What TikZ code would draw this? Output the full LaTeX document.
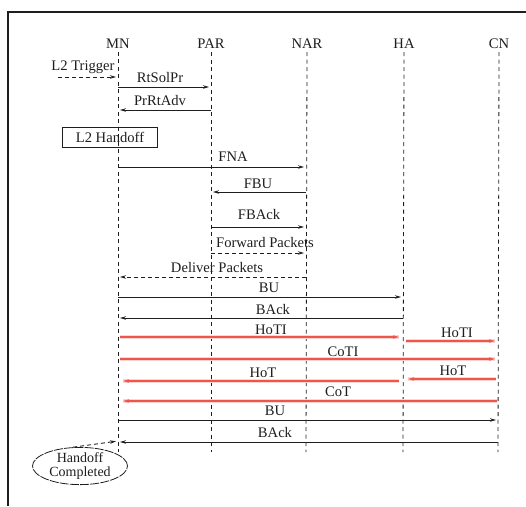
\documentclass[tikz,border=0pt]{standalone}
\usepackage{fontspec}
\setmainfont{Liberation Serif}
\usetikzlibrary{arrows.meta,shapes.geometric,calc}
\definecolor{redl}{RGB}{238,86,76}
\definecolor{inkc}{RGB}{30,30,30}
\begin{document}
\begin{tikzpicture}[x=1pt,y=-1pt,
  lbl/.style={font=\fontsize{14.6}{16}\selectfont, inner sep=0pt, text=inkc},
  life/.style={dash pattern=on 4pt off 3.5pt, line width=0.8pt, draw=inkc},
  msgline/.style={line width=0.9pt, draw=inkc, -{Stealth[length=6pt,width=3.5pt]}, shorten >=2pt},
  dmsg/.style={msgline, dash pattern=on 4pt off 3pt},
  redmsg/.style={msgline, draw=redl, line width=1.3pt, preaction={draw=redl!25, line width=3.4pt, -}, -{Stealth[length=6pt,width=3.5pt]}},
]
\useasboundingbox (0,0) rectangle (526,506);
% frame
\draw[line width=2pt, inkc] (526,12) -- (8,12) -- (8,506);

% lifeline heads
\node[lbl] (mn)  at (118,44) {MN};
\node[lbl] (par) at (211,44) {PAR};
\node[lbl] (nar) at (307,44) {NAR};
\node[lbl] (ha)  at (404,44) {HA};
\node[lbl] (cn)  at (499,44) {CN};
\coordinate (mne)  at (118,452);
\coordinate (pare) at (211,452);
\coordinate (nare) at (306,452);
\coordinate (hae)  at (403,452);
\coordinate (cne)  at (498,452);
\draw[life] (mn.south)  ++(0,3) -- (mne);
\draw[life] (par.south) ++(0,3) -- (pare);
\draw[life] (nar.south) ++(0,3) -- (nare);
\draw[life] (ha.south)  ++(0,3) -- (hae);
\draw[life] (cn.south)  ++(0,3) -- (cne);

% L2 trigger
\node[lbl] (l2t) at (83,67) {L2 Trigger};
\coordinate (l2s) at (58,77);
\draw[dmsg] (l2s) -- (mne |- l2s);

% RtSolPr
\node[lbl] (rtsol) at (160,78) {RtSolPr};
\draw[msgline] (mne |- 0,87) -- (pare |- 0,87);
% PrRtAdv
\node[lbl] (prrt) at (160,101) {PrRtAdv};
\draw[msgline] (pare |- 0,110) -- (mne |- 0,110);

% L2 Handoff box
\node[draw=inkc, line width=0.8pt, minimum width=95pt, minimum height=20pt, lbl, inner sep=0pt] (l2h) at (110,137) {L2 Handoff};

% FNA
\node[lbl] (fna) at (233,157) {FNA};
\draw[msgline] (mne |- 0,167) -- (nare |- 0,167);
% FBU
\node[lbl] (fbu) at (258,184) {FBU};
\draw[msgline] (nare |- 0,192) -- (pare |- 0,192);
% FBAck
\node[lbl] (fback) at (259,215) {FBAck};
\draw[msgline] (pare |- 0,227) -- (nare |- 0,227);
% Forward Packets
\node[lbl] (fwd) at (265,243) {Forward Packets};
\draw[dmsg] (pare |- 0,253) -- (nare |- 0,253);
% Deliver Packets
\node[lbl] (dlv) at (217,268) {Deliver Packets};
\draw[dmsg] (nare |- 0,277) -- (mne |- 0,277);
% BU
\node[lbl] (bu1) at (269,288) {BU};
\draw[msgline] (mne |- 0,297) -- (hae |- 0,297);
% BAck
\node[lbl] (back1) at (273,309) {BAck};
\draw[msgline] (hae |- 0,318) -- (mne |- 0,318);

% HoTI
\node[lbl] (hoti1) at (271,330) {HoTI};
\draw[redmsg, shorten <=2pt, shorten >=4pt] (mne |- 0,337) -- (hae |- 0,337);
\node[lbl] (hoti2) at (457,333) {HoTI};
\draw[redmsg, shorten <=3pt, shorten >=3pt] (hae |- 0,341) -- (cne |- 0,341);
% CoTI
\node[lbl] (coti) at (343,352) {CoTI};
\draw[redmsg, shorten <=2pt, shorten >=3pt] (mne |- 0,359) -- (cne |- 0,359);
% HoT
\node[lbl] (hot1) at (263,373) {HoT};
\draw[redmsg, shorten <=4pt, shorten >=5pt] (hae |- 0,381) -- (mne |- 0,381);
\node[lbl] (hot2) at (453,371) {HoT};
\draw[redmsg, shorten <=2pt, shorten >=5pt] (cne |- 0,379) -- (hae |- 0,379);
% CoT
\node[lbl] (cot) at (338,392) {CoT};
\draw[redmsg, shorten <=1pt, shorten >=5pt] (cne |- 0,401) -- (mne |- 0,401);

% BU 2
\node[lbl] (bu2) at (275,411) {BU};
\draw[msgline] (mne |- 0,420) -- (cne |- 0,420);
% BAck 2
\node[lbl] (back2) at (275,432) {BAck};
\draw[msgline] (cne |- 0,442) -- (mne |- 0,442);

% Handoff completed
\node[draw=inkc, ellipse, dash pattern=on 9pt off 1.2pt, line width=0.8pt, minimum width=95pt, minimum height=34pt, inner sep=0pt, align=center, font=\fontsize{14}{13.5}\selectfont, text=inkc] (hc) at (80,466) {Handoff\\Completed};
\draw[dmsg] (hc.110) -- (mne |- 0,441);
\end{tikzpicture}
\end{document}
